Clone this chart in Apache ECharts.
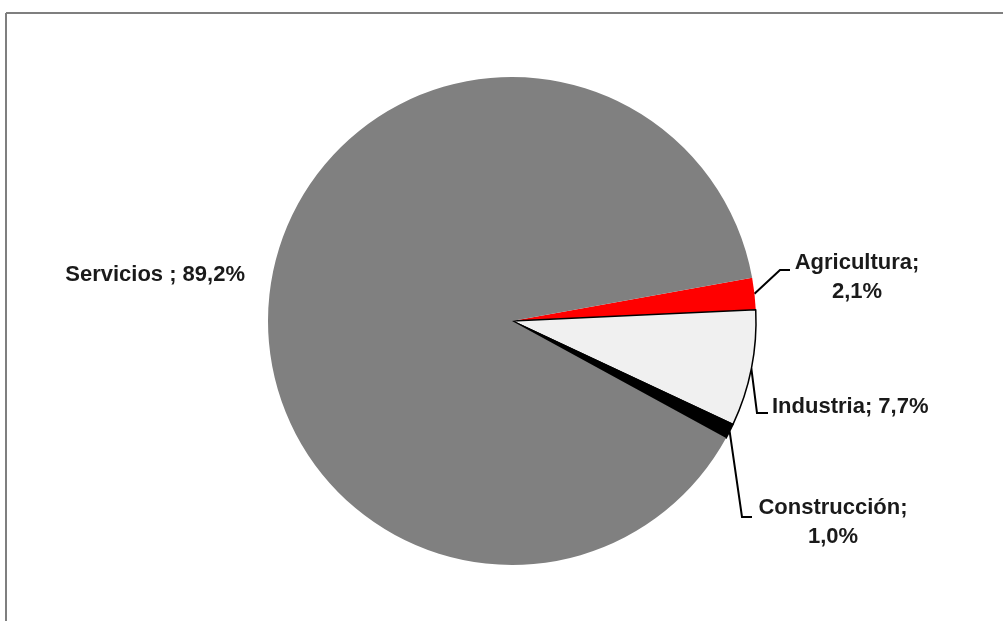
<!DOCTYPE html>
<html>
<head>
<meta charset="utf-8">
<script src="https://cdn.jsdelivr.net/npm/echarts@6/dist/echarts.min.js"></script>
<style>
html,body{margin:0;padding:0;background:#fff;}
#chart{width:1003px;height:621px;}
</style>
</head>
<body>
<div id="chart"></div>
<script>
// Data
const categories = ['Agricultura', 'Industria', 'Construcción', 'Servicios'];
const values = [2.1, 7.7, 1.0, 89.2];
const labelTexts = ['Agricultura;\n2,1%', 'Industria; 7,7%', 'Construcción;\n1,0%', 'Servicios ; 89,2%'];
const colors = ['#ff0000', '#f0f0f0', '#000000', '#808080'];

// Label layout (positions of text and leader elbows)
const labelSpots = [
  { x: 857, y: 277, align: 'center', elbow: [780, 270], end: [790, 270] },
  { x: 772, y: 407, align: 'left', elbow: [757, 413], end: [768, 413] },
  { x: 833, y: 522, align: 'center', elbow: [742, 517], end: [752, 517] },
  { x: 245, y: 275, align: 'right', elbow: null, end: null }
];

const chart = echarts.init(document.getElementById('chart'), null, { renderer: 'canvas' });

const seriesData = categories.map((c, i) => ({
  name: c,
  value: values[i],
  itemStyle: {
    color: colors[i],
    borderColor: (i === 1 || i === 2) ? '#000' : colors[i],
    borderWidth: (i === 1 || i === 2) ? 1.5 : 0
  },
  label: { formatter: labelTexts[i] },
  labelLine: { show: labelSpots[i].elbow !== null }
}));

chart.setOption({
  animation: false,
  backgroundColor: '#ffffff',
  graphic: [
    { type: 'line', shape: { x1: 6, y1: 13, x2: 1003, y2: 13 }, style: { stroke: '#7f7f7f', lineWidth: 2 } },
    { type: 'line', shape: { x1: 6, y1: 13, x2: 6, y2: 621 }, style: { stroke: '#7f7f7f', lineWidth: 2 } }
  ],
  series: [{
    type: 'pie',
    center: [512, 321],
    radius: 244,
    startAngle: 10.2,
    clockwise: true,
    avoidLabelOverlap: false,
    emphasis: { disabled: true },
    label: {
      show: true,
      position: 'outside',
      fontFamily: 'Liberation Sans, Arial, sans-serif',
      fontWeight: 'bold',
      fontSize: 22,
      lineHeight: 29,
      color: '#1a1a1a'
    },
    labelLine: {
      show: true,
      length: 20,
      length2: 10,
      lineStyle: { color: '#000', width: 2 }
    },
    labelLayout: function (params) {
      const s = labelSpots[params.dataIndex];
      const out = { x: s.x, y: s.y, align: s.align, verticalAlign: 'middle' };
      if (s.elbow && params.labelLinePoints) {
        out.labelLinePoints = [params.labelLinePoints[0], s.elbow, s.end];
      }
      return out;
    },
    data: seriesData
  }]
});
</script>
</body>
</html>
